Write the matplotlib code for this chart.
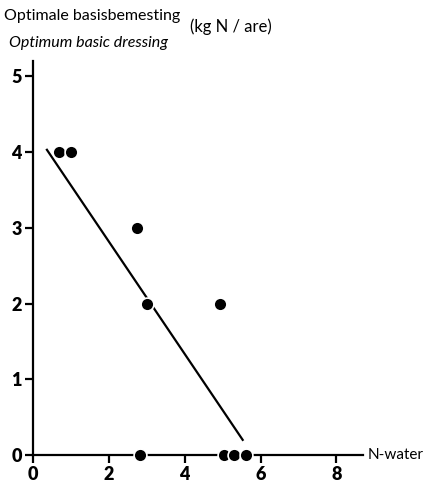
import matplotlib
matplotlib.use("Agg")
import matplotlib.pyplot as plt

# data
n_water = [0.69, 1.0, 2.75, 3.02, 4.92, 2.83, 5.03, 5.29, 5.63]
dressing = [4, 4, 3, 2, 2, 0, 0, 0, 0]
line_x = [0.37, 5.53]
line_y = [4.03, 0.2]
xticks = [0, 2, 4, 6, 8]
yticks = [0, 1, 2, 3, 4, 5]

plt.rcParams['font.family'] = ['Lato', 'DejaVu Sans']

fig = plt.figure(figsize=(4.27, 4.88), dpi=100)
ax = fig.add_axes([0.077, 0.0676, 0.773, 0.807])

ax.plot(line_x, line_y, color='black', lw=1.6, zorder=2)
ax.scatter(n_water, dressing, s=85, color='black', edgecolor='white',
           linewidth=1.2, zorder=3, clip_on=False)

ax.set_xlim(0, 8.7)
ax.set_ylim(0, 5.2)
ax.set_xticks(xticks)
ax.set_yticks(yticks)
ax.spines['top'].set_visible(False)
ax.spines['right'].set_visible(False)
ax.spines['left'].set_linewidth(1.6)
ax.spines['bottom'].set_linewidth(1.6)
ax.tick_params(direction='out', length=6, width=1.6, labelsize=13, pad=2)
for lab in ax.get_xticklabels() + ax.get_yticklabels():
    lab.set_fontweight('heavy')

fig.text(0.01, 0.967, 'Optimale basisbemesting', fontsize=11.5, va='center')
fig.text(0.022, 0.912, 'Optimum basic dressing', fontsize=11.5, style='italic', va='center')
fig.text(0.445, 0.945, '(kg N / are)', fontsize=12, va='center')
fig.text(0.862, 0.0676, 'N-water', fontsize=11, va='center')

fig.savefig('out.png', dpi=100)
